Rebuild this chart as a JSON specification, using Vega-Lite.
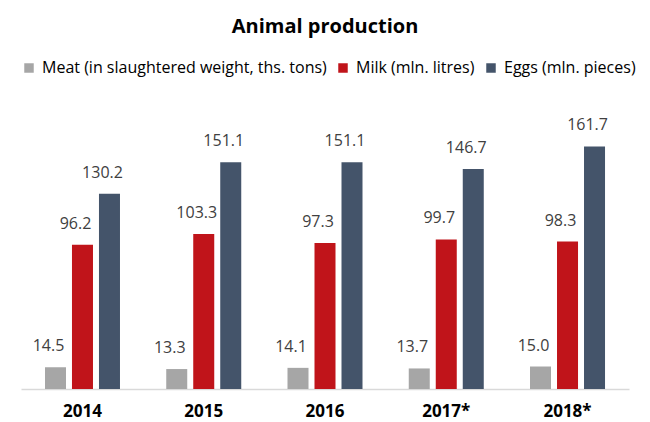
{
  "$schema": "https://vega.github.io/schema/vega-lite/v6.json",
  "autosize": "none",
  "width": 608,
  "height": 270,
  "padding": {"left": 21, "top": 119, "right": 21, "bottom": 33},
  "background": "white",
  "title": {
    "text": "Animal production",
    "font": "Open Sans",
    "fontSize": 20,
    "fontWeight": "bold",
    "color": "#000000",
    "anchor": "middle",
    "offset": 23
  },
  "data": {
    "values": [
      {"year": "2014", "series": "Meat (in slaughtered weight, ths. tons)", "value": 14.5},
      {"year": "2014", "series": "Milk (mln. litres)", "value": 96.2},
      {"year": "2014", "series": "Eggs (mln. pieces)", "value": 130.2},
      {"year": "2015", "series": "Meat (in slaughtered weight, ths. tons)", "value": 13.3},
      {"year": "2015", "series": "Milk (mln. litres)", "value": 103.3},
      {"year": "2015", "series": "Eggs (mln. pieces)", "value": 151.1},
      {"year": "2016", "series": "Meat (in slaughtered weight, ths. tons)", "value": 14.1},
      {"year": "2016", "series": "Milk (mln. litres)", "value": 97.3},
      {"year": "2016", "series": "Eggs (mln. pieces)", "value": 151.1},
      {"year": "2017*", "series": "Meat (in slaughtered weight, ths. tons)", "value": 13.7},
      {"year": "2017*", "series": "Milk (mln. litres)", "value": 99.7},
      {"year": "2017*", "series": "Eggs (mln. pieces)", "value": 146.7},
      {"year": "2018*", "series": "Meat (in slaughtered weight, ths. tons)", "value": 15.0},
      {"year": "2018*", "series": "Milk (mln. litres)", "value": 98.3},
      {"year": "2018*", "series": "Eggs (mln. pieces)", "value": 161.7}
    ]
  },
  "encoding": {
    "x": {
      "field": "year",
      "type": "nominal",
      "sort": null,
      "scale": {"paddingInner": 0.332, "paddingOuter": 0.173},
      "axis": {
        "title": null,
        "labelAngle": 0,
        "ticks": false,
        "domainColor": "#d9d9d9",
        "domainWidth": 1.5,
        "labelFont": "Open Sans",
        "labelFontSize": 17,
        "labelFontWeight": "bold",
        "labelColor": "#000000",
        "labelPadding": 14
      }
    },
    "xOffset": {
      "field": "series",
      "type": "nominal",
      "sort": ["Meat (in slaughtered weight, ths. tons)", "Milk (mln. litres)", "Eggs (mln. pieces)"],
      "scale": {"paddingInner": 0.222, "paddingOuter": 0.111}
    },
    "y": {
      "field": "value",
      "type": "quantitative",
      "scale": {"domain": [0, 180], "nice": false},
      "axis": null
    }
  },
  "layer": [
    {
      "mark": {"type": "bar"},
      "encoding": {
        "color": {
          "field": "series",
          "type": "nominal",
          "sort": ["Meat (in slaughtered weight, ths. tons)", "Milk (mln. litres)", "Eggs (mln. pieces)"],
          "scale": {
            "domain": ["Meat (in slaughtered weight, ths. tons)", "Milk (mln. litres)", "Eggs (mln. pieces)"],
            "range": ["#a6a6a6", "#c0141a", "#44546a"]
          },
          "legend": {
            "title": null,
            "orient": "top",
            "direction": "horizontal",
            "symbolType": "square",
            "symbolSize": 90,
            "symbolStrokeWidth": 0,
            "labelFont": "Open Sans",
            "labelFontSize": 16,
            "labelColor": "#000000",
            "labelOffset": 5,
            "columnPadding": 8,
            "offset": 43,
            "labelLimit": 400
          }
        }
      }
    },
    {
      "mark": {
        "type": "text",
        "baseline": "alphabetic",
        "dy": -16,
        "dx": -7,
        "font": "Open Sans",
        "fontSize": 16,
        "color": "#404040"
      },
      "encoding": {
        "text": {"field": "value", "type": "quantitative", "format": ".1f"}
      }
    }
  ],
  "config": {
    "view": {"stroke": null}
  }
}
